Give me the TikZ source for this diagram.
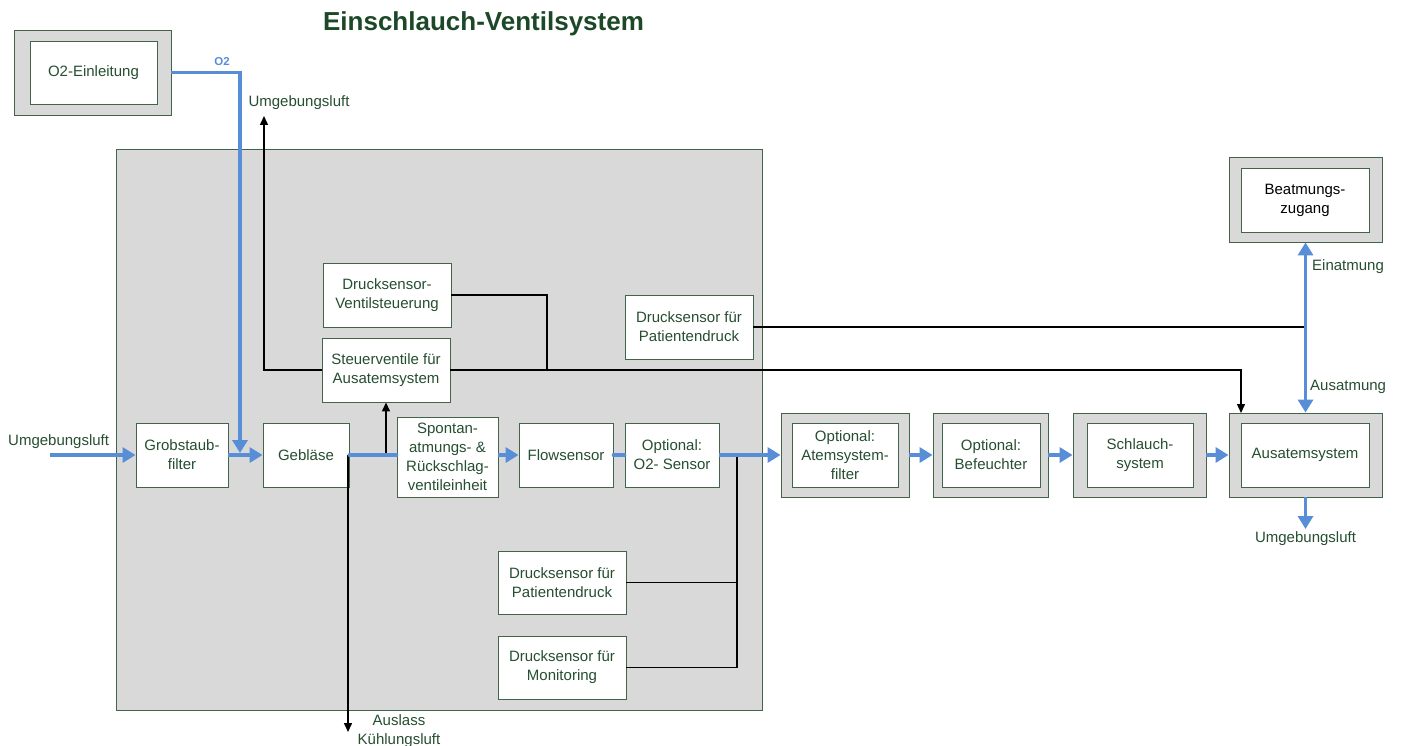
\documentclass[tikz,border=0pt]{standalone}
\usepackage{fontspec}
\setmainfont{Liberation Sans}
\usetikzlibrary{arrows.meta}
\definecolor{txtg}{RGB}{38,78,48}
\definecolor{titleg}{RGB}{28,72,40}
\definecolor{bord}{RGB}{66,100,72}
\definecolor{panel}{RGB}{217,217,217}
\definecolor{flow}{RGB}{88,142,214}
\tikzset{
  box/.style={draw=bord, line width=0.9pt, fill=white, text=txtg, align=center, inner sep=0pt,
    font=\fontsize{15}{19}\selectfont},
  outerbox/.style={draw=bord, line width=0.9pt, fill=panel, inner sep=0pt},
  lbl/.style={text=txtg, inner sep=0pt, font=\fontsize{15}{19}\selectfont, align=center},
  air/.style={draw=flow, line width=3.6pt, line cap=round},
  airarrow/.style={air, line cap=butt, -{Triangle[width=15pt,length=13pt]}},
  sig/.style={draw=black, line width=1.5pt},
  sigarrow/.style={sig, -{Triangle[width=8pt,length=9pt]}},
}
\begin{document}
\begin{tikzpicture}[x=1pt,y=-1pt]
\useasboundingbox (0,0) rectangle (1402,746);
% title
\node[text=titleg, font=\bfseries\fontsize{26}{30}\selectfont, inner sep=0pt] (title) at (483.5,24) {Einschlauch-Ventilsystem};
% big panel
\draw[draw=bord, line width=0.9pt, fill=panel] (116,149) rectangle (762,710);
% O2 source
\node[outerbox, minimum width=157pt, minimum height=85pt] (o2out) at (92.5,72.5) {};
\node[box, minimum width=127pt, minimum height=63pt] (o2in) at (93.5,72.5) {O2-Einleitung};
% inner boxes
\node[box, minimum width=92pt, minimum height=64pt] (grob) at (182,455) {Grobstaub-\\filter};
\node[box, minimum width=86pt, minimum height=64pt] (geb) at (306,455) {Gebläse};
\node[box, minimum width=101pt, minimum height=80pt] (spon) at (447.5,457) {Spontan-\\atmungs- \&\\Rückschlag-\\ventileinheit};
\node[box, minimum width=94pt, minimum height=64pt] (flw) at (566,455) {Flowsensor};
\node[box, minimum width=94pt, minimum height=64pt] (o2s) at (672,455) {Optional:\\O2- Sensor};
\node[box, minimum width=128pt, minimum height=64pt] (dsv) at (387,295) {Drucksensor-\\Ventilsteuerung};
\node[box, minimum width=128pt, minimum height=64pt] (stv) at (386,370) {Steuerventile für\\Ausatemsystem};
\node[box, minimum width=128pt, minimum height=64pt] (pat1) at (689,327) {Drucksensor für\\Patientendruck};
\node[box, minimum width=128pt, minimum height=63pt] (pat2) at (562,582.5) {Drucksensor für\\Patientendruck};
\node[box, minimum width=128pt, minimum height=63pt] (mon) at (562,667.5) {Drucksensor für\\Monitoring};
% right chain
\node[outerbox, minimum width=128pt, minimum height=84pt] (atfo) at (845,455) {};
\node[box, minimum width=106pt, minimum height=64pt] (atf) at (845,455) {Optional:\\Atemsystem-\\filter};
\node[outerbox, minimum width=115pt, minimum height=84pt] (befo) at (990.5,455) {};
\node[box, minimum width=98pt, minimum height=64pt] (bef) at (991,455) {Optional:\\Befeuchter};
\node[outerbox, minimum width=133pt, minimum height=84pt] (scho) at (1139.5,455) {};
\node[box, minimum width=106pt, minimum height=64pt] (sch) at (1140,455) {Schlauch-\\system};
\node[outerbox, minimum width=153pt, minimum height=84pt] (auso) at (1305.5,455) {};
\node[box, minimum width=128pt, minimum height=64pt] (aus) at (1305,455) {Ausatemsystem};
\node[outerbox, minimum width=153pt, minimum height=85pt] (beato) at (1305.5,199.5) {};
\node[box, minimum width=128pt, minimum height=64pt, text=black] (beat) at (1305,200) {Beatmungs-\\zugang};
% coordinates
\coordinate (uin) at (50,455);
\coordinate (o2m) at (240,453);
\coordinate (tap1) at (386,455);
\coordinate (tapg) at (348,455);
\coordinate (ausl) at (348,732);
\coordinate (uout) at (264,116);
\coordinate (jn) at (547,370);
\coordinate (ausin) at (1241,413);
\coordinate (jb) at (1305.5,327);
\coordinate (tap2) at (737,455);
\coordinate (uout2) at (1305.5,529);
% labels
\node[lbl, anchor=west] (lu1) at (8,442) {Umgebungsluft};
\node[lbl] (lu2) at (299,103) {Umgebungsluft};
\node[lbl] (lu3) at (1305.5,539) {Umgebungsluft};
\node[lbl] (lausl) at (399,731) {Auslass\\Kühlungsluft};
\node[lbl, anchor=west] (lein) at (1312,267) {Einatmung};
\node[lbl, anchor=west] (lausa) at (1310,387) {Ausatmung};
\node[text=flow, font=\bfseries\fontsize{11.5}{13}\selectfont, inner sep=0pt] (lo2) at (222,62) {O2};
% black signal lines
\draw[sigarrow] (tap1) -- (stv.south);
\draw[sigarrow] (stv.west) -| (uout);
\draw[sigarrow] (stv.east) -| (ausin);
\draw[sig] (dsv.east) -| (jn);
\draw[sig] (pat1.east) -- (jb);
\draw[sigarrow] (tapg) -- (ausl);
\draw[sig] (tap2) |- (mon.east);
\draw[sig] (pat2.east) -- (pat2.east -| tap2);
% air flow
\draw[airarrow] (uin) -- (grob.west);
\draw[airarrow] (grob.east) -- (geb.west);
\draw[air, line cap=butt, -{Triangle[width=15pt,length=13pt]}] (o2out.east) -| (o2m);
\draw[air] (geb.east) -- (geb.east -| spon.west);
\draw[airarrow] (spon.east |- flw.west) -- (flw.west);
\draw[air] (flw.east) -- (o2s.west);
\draw[airarrow] (o2s.east) -- (atfo.west);
\draw[airarrow] (atfo.east) -- (befo.west);
\draw[airarrow] (befo.east) -- (scho.west);
\draw[airarrow] (scho.east) -- (auso.west);
\draw[air, line cap=butt, {Triangle[width=15pt,length=13pt]}-{Triangle[width=15pt,length=13pt]}] (auso.north) -- (beato.south);
\draw[airarrow] (auso.south) -- (uout2);
\end{tikzpicture}
\end{document}
